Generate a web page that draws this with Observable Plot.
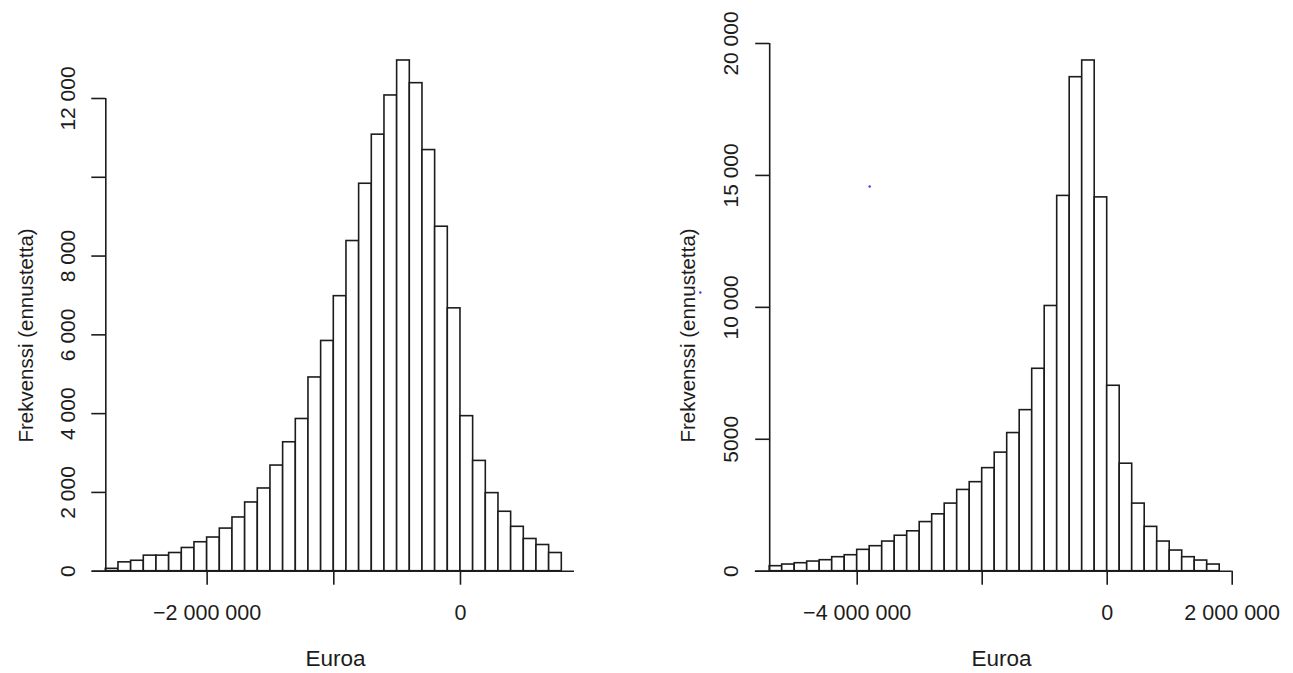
<!DOCTYPE html>
<html><head><meta charset="utf-8">
<script src="https://cdn.jsdelivr.net/npm/d3@7"></script>
<script src="https://cdn.jsdelivr.net/npm/@observablehq/plot@0.6"></script>
<style>
html,body{margin:0;padding:0;background:#fff;}
#wrap{display:flex;width:1293px;height:673px;overflow:hidden;background:#fff;}
#wrap svg{display:block;flex:none;}
</style></head><body><div id="wrap"></div>
<script>
// ---- Left histogram (bins of 100 000 from -2 800 000 to 800 000)
const leftBinStart = -2800000;
const leftBinWidth = 100000;
const leftCounts = [60,225,265,395,395,462,590,735,855,1082,1364,1745,2100,2682,3273,3864,4918,5845,6982,8382,9836,11082,12077,12965,12389,10691,8745,6673,3936,2800,1982,1509,1127,818,665,462];
const leftXTicks = [-2000000, -1000000, 0];
const leftXLabels = [{v: -2000000, t: "\u22122 000 000"}, {v: 0, t: "0"}];
const leftYTicks = [0, 2000, 4000, 6000, 8000, 10000, 12000];
const leftYLabels = [{v: 0, t: "0"}, {v: 2000, t: "2 000"}, {v: 4000, t: "4 000"}, {v: 6000, t: "6 000"}, {v: 8000, t: "8 000"}, {v: 12000, t: "12 000"}];
const leftBaseline = [-2905000, 900000];

// ---- Right histogram (bins of 200 000 from -5 400 000 to 1 800 000)
const rightBinStart = -5400000;
const rightBinWidth = 200000;
const rightCounts = [190,253,303,366,417,531,606,809,948,1124,1344,1512,1862,2156,2562,3080,3374,3906,4494,5236,6104,7672,10052,14224,18723,19356,14168,7028,4074,2562,1680,1124,783,531,404,253];
const rightXTicks = [-4000000, -2000000, 0, 2000000];
const rightXLabels = [{v: -4000000, t: "\u22124 000 000"}, {v: 0, t: "0"}, {v: 2000000, t: "2 000 000"}];
const rightYTicks = [0, 5000, 10000, 15000, 20000];
const rightYLabels = [{v: 0, t: "0"}, {v: 5000, t: "5000"}, {v: 10000, t: "10 000"}, {v: 15000, t: "15 000"}, {v: 20000, t: "20 000"}];
const rightBaseline = [-5630000, 2000000];
const rightSpecks = [{x: -3800000, y: 14580}, {x: -6510000, y: 10563}];

const xTitle = "Euroa";
const yTitle = "Frekvenssi (ennustetta)";

const INK = "#1c1c1c";
const FONT = "'Liberation Sans', Arial, Helvetica, sans-serif";

function bins(start, width, counts) {
  return counts.map((c, i) => ({x1: start + i * width, x2: start + (i + 1) * width, n: c}));
}

function hist({width, marginLeft, marginRight, marginTop, marginBottom, start, binW, counts, xTicks, xLabels, yTicks, yLabels, baseline, ylabDx, ylabDy, yTickDx, xlabDx, specks}) {
  const data = bins(start, binW, counts);
  const xDomain = [data[0].x1, data[data.length - 1].x2];
  const yMax = yTicks[yTicks.length - 1];
  return Plot.plot({
    width, height: 673,
    marginLeft, marginRight, marginTop, marginBottom,
    style: {fontFamily: FONT, fontSize: "21px", background: "#fff", color: INK, overflow: "visible"},
    x: {domain: xDomain, axis: null},
    y: {domain: [0, yMax], axis: null},
    marks: [
      Plot.rectY(data, {x1: "x1", x2: "x2", y1: 0, y2: "n", fill: "#fff", stroke: INK, strokeWidth: 1.6}),
      // baseline at zero
      Plot.ruleY([0], {x1: () => baseline[0], x2: () => baseline[1], stroke: INK, strokeWidth: 1.6}),
      // y axis line
      Plot.ruleX([xDomain[0]], {x: d => d, y1: 0, y2: yMax, stroke: INK, strokeWidth: 1.6}),
      // y ticks
      Plot.axisY(yTicks, {anchor: "left", tickSize: 14, fill: "none", stroke: INK, strokeWidth: 1.6}),
      // x ticks
      Plot.axisX(xTicks, {anchor: "bottom", tickSize: 14, fill: "none", stroke: INK, strokeWidth: 1.6}),
      // y tick labels (rotated)
      Plot.text(yLabels, {y: "v", text: "t", frameAnchor: "left", dx: yTickDx, rotate: -90, textAnchor: "middle", lineAnchor: "bottom", fontSize: 21, fill: INK}),
      // x tick labels
      Plot.text(xLabels, {x: "v", text: "t", frameAnchor: "bottom", dy: 48.3, textAnchor: "middle", lineAnchor: "bottom", fontSize: 21.5, fill: INK}),
      // axis titles
      Plot.text([xTitle], {frameAnchor: "bottom", dx: xlabDx, dy: 94.3, lineAnchor: "bottom", fontSize: 22.5, fill: INK}),
      Plot.text([yTitle], {frameAnchor: "left", dx: ylabDx, dy: ylabDy, rotate: -90, textAnchor: "middle", lineAnchor: "middle", fontSize: 20.5, fill: INK}),
      specks ? Plot.dot(specks, {x: "x", y: "y", r: 1.2, fill: "#3a3aff", stroke: null}) : null
    ]
  });
}

const left = hist({
  width: 646, marginLeft: 105.3, marginRight: 646 - 561.3, marginTop: 98, marginBottom: 673 - 570.7,
  start: leftBinStart, binW: leftBinWidth, counts: leftCounts,
  xTicks: leftXTicks, xLabels: leftXLabels, yTicks: leftYTicks, yLabels: leftYLabels,
  baseline: leftBaseline, ylabDx: 26 - 105.3, ylabDy: 335 - (98 + 570.7) / 2, yTickDx: -31, xlabDx: 335 - (105.3 + 561.3) / 2
});
const right = hist({
  width: 647, marginLeft: 123.2, marginRight: 647 - 573.2, marginTop: 43, marginBottom: 673 - 570.7,
  start: rightBinStart, binW: rightBinWidth, counts: rightCounts,
  xTicks: rightXTicks, xLabels: rightXLabels, yTicks: rightYTicks, yLabels: rightYLabels,
  baseline: rightBaseline, ylabDx: 688 - 646 - 123.2, ylabDy: 335 - (43 + 570.7) / 2, yTickDx: -32, xlabDx: 1001 - 646 - (123.2 + 573.2) / 2,
  specks: rightSpecks
});
const wrap = document.getElementById("wrap");
wrap.appendChild(left);
wrap.appendChild(right);
</script>
</body></html>
